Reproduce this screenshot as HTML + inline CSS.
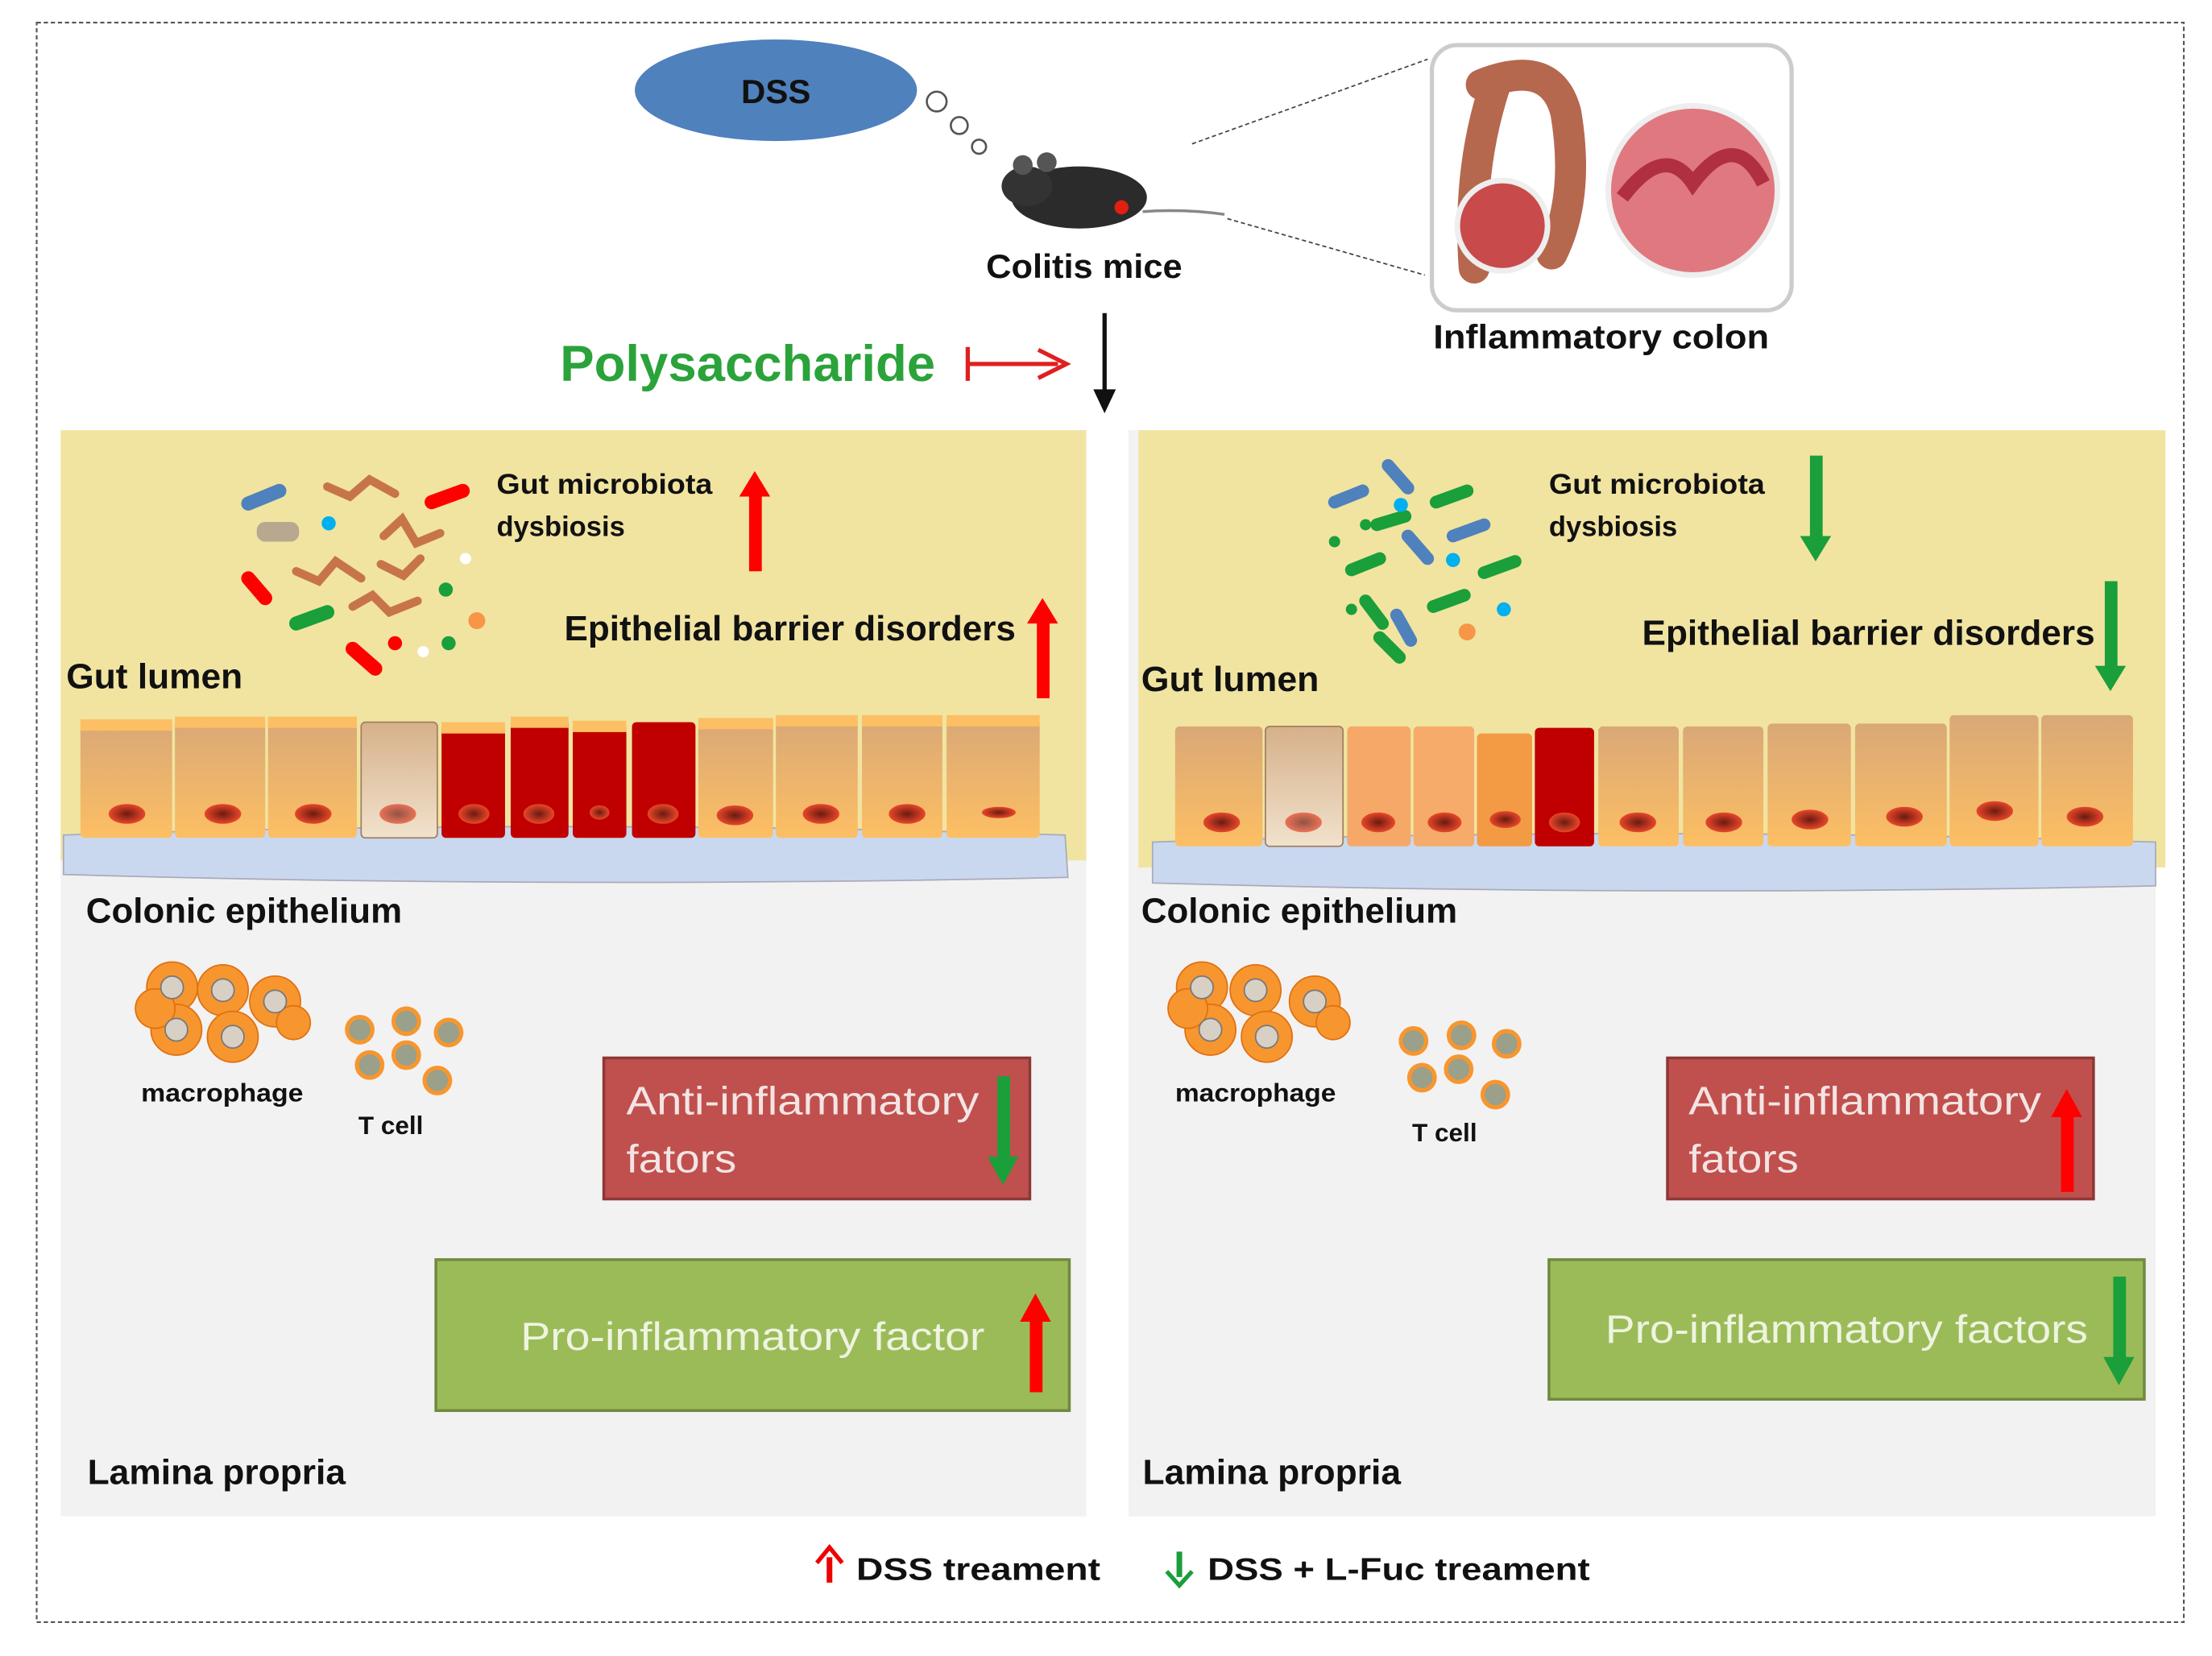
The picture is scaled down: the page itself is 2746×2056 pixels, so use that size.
<!DOCTYPE html>
<html><head><meta charset="utf-8"><style>
html,body{margin:0;padding:0;background:#fff}
svg{display:block}
text{font-family:"Liberation Sans",sans-serif}
</style></head><body>
<svg width="2746" height="2056" viewBox="0 0 1568 1174" xmlns="http://www.w3.org/2000/svg">
<defs>
<linearGradient id="cell" x1="0" y1="0" x2="0" y2="1"><stop offset="0" stop-color="#d9a877"/><stop offset="1" stop-color="#fdbf63"/></linearGradient>
<linearGradient id="beige" x1="0" y1="0" x2="0" y2="1"><stop offset="0" stop-color="#d6b08a"/><stop offset="1" stop-color="#f1e2cc"/></linearGradient>
<radialGradient id="nuc"><stop offset="0" stop-color="#6b1a10"/><stop offset="1" stop-color="#e8472a"/></radialGradient>
</defs>
<rect x="26" y="16" width="1522" height="1134" fill="none" stroke="#555" stroke-width="1.2" stroke-dasharray="3,2"/>

<ellipse cx="550" cy="64" rx="100" ry="36" fill="#4f81bd"/>
<text x="550" y="73" font-size="24" font-weight="bold" text-anchor="middle" fill="#111">DSS</text>
<circle cx="664" cy="72" r="7" fill="#fff" stroke="#555" stroke-width="1.5"/>
<circle cx="680" cy="89" r="6" fill="#fff" stroke="#555" stroke-width="1.5"/>
<circle cx="694" cy="104" r="5" fill="#fff" stroke="#555" stroke-width="1.5"/>
<ellipse cx="765" cy="140" rx="48" ry="22" fill="#2b2b2b"/>
<ellipse cx="728" cy="132" rx="18" ry="14" fill="#333"/>
<circle cx="725" cy="117" r="7" fill="#555"/>
<circle cx="742" cy="115" r="7" fill="#555"/>
<circle cx="795" cy="147" r="5" fill="#e02010"/>
<path d="M810 150 Q840 148 868 152" stroke="#888" stroke-width="2" fill="none"/>
<text x="699" y="197" font-size="24" font-weight="bold" textLength="139" lengthAdjust="spacingAndGlyphs" fill="#111">Colitis mice</text>
<line x1="845" y1="102" x2="1012" y2="42" stroke="#444" stroke-dasharray="3,2"/>
<line x1="870" y1="155" x2="1010" y2="195" stroke="#444" stroke-dasharray="3,2"/>
<rect x="1015" y="32" width="255" height="188" rx="18" fill="#fff" stroke="#ccc" stroke-width="3"/>
<path d="M1060 60 Q1040 120 1045 190 M1050 60 Q1100 40 1110 80 Q1120 140 1100 180" stroke="#b5684e" stroke-width="22" fill="none" stroke-linecap="round"/>
<circle cx="1065" cy="160" r="32" fill="#c94a4a" stroke="#eee" stroke-width="4"/>
<circle cx="1200" cy="135" r="60" fill="#e07880" stroke="#eee" stroke-width="4"/>
<path d="M1150 140 Q1180 100 1200 130 Q1230 90 1250 130" stroke="#b03040" stroke-width="10" fill="none"/>
<text x="1016" y="247" font-size="24" font-weight="bold" textLength="238" lengthAdjust="spacingAndGlyphs" fill="#111">Inflammatory colon</text>
<text x="397" y="270" font-size="36" font-weight="bold" textLength="266" lengthAdjust="spacingAndGlyphs" fill="#2aa33a">Polysaccharide</text>
<line x1="686" y1="246" x2="686" y2="270" stroke="#e02020" stroke-width="3"/>
<line x1="686" y1="258" x2="750" y2="258" stroke="#e02020" stroke-width="3"/>
<path d="M736 248 L756 258 L736 268" stroke="#e02020" stroke-width="3" fill="none"/>
<line x1="783" y1="222" x2="783" y2="285" stroke="#111" stroke-width="3"/>
<path d="M775 276 L783 293 L791 276" fill="#111"/>

<rect x="43" y="305" width="727" height="770" fill="#f2f2f2"/>
<rect x="43" y="305" width="727" height="305" fill="#f1e4a1"/>
<rect x="800" y="305" width="728" height="770" fill="#f2f2f2"/>
<rect x="807" y="305" width="728" height="310" fill="#f1e4a1"/>

<path d="M45 592 Q400 580 755 592 L757 622 Q400 630 45 620 Z" fill="#c9d8ee" stroke="#aab" stroke-width="1"/>
<path d="M817 597 Q1170 585 1528 597 L1528 628 Q1170 636 817 626 Z" fill="#c9d8ee" stroke="#aab" stroke-width="1"/>

<g>
<rect x="57" y="512" width="65" height="82" rx="3" fill="url(#cell)"/>
<rect x="124" y="510" width="64" height="84" rx="3" fill="url(#cell)"/>
<rect x="190" y="510" width="63" height="84" rx="3" fill="url(#cell)"/>
<rect x="256" y="512" width="54" height="82" rx="3" fill="url(#beige)" stroke="#a08060"/>
<rect x="313" y="514" width="45" height="80" rx="3" fill="#c00000"/>
<rect x="362" y="510" width="41" height="84" rx="3" fill="#c00000"/>
<rect x="406" y="513" width="38" height="81" rx="3" fill="#c00000"/>
<rect x="448" y="512" width="45" height="82" rx="3" fill="#c00000"/>
<rect x="495" y="511" width="53" height="83" rx="3" fill="url(#cell)"/>
<rect x="550" y="509" width="58" height="85" rx="3" fill="url(#cell)"/>
<rect x="611" y="509" width="57" height="85" rx="3" fill="url(#cell)"/>
<rect x="671" y="509" width="66" height="85" rx="3" fill="url(#cell)"/>
<g fill="#fdbf63"><rect x="57" y="510" width="65" height="8"/><rect x="124" y="508" width="64" height="8"/><rect x="190" y="508" width="63" height="8"/><rect x="313" y="512" width="45" height="8"/><rect x="362" y="508" width="41" height="8"/><rect x="406" y="511" width="38" height="8"/><rect x="495" y="509" width="53" height="8"/><rect x="550" y="507" width="58" height="8"/><rect x="611" y="507" width="57" height="8"/><rect x="671" y="507" width="66" height="8"/></g>
<g fill="url(#nuc)"><ellipse cx="90" cy="577" rx="13" ry="7"/><ellipse cx="158" cy="577" rx="13" ry="7"/><ellipse cx="222" cy="577" rx="13" ry="7"/><ellipse cx="282" cy="577" rx="13" ry="7" opacity=".7"/><ellipse cx="336" cy="577" rx="11" ry="7"/><ellipse cx="382" cy="577" rx="11" ry="7"/><ellipse cx="425" cy="576" rx="7" ry="5"/><ellipse cx="470" cy="577" rx="11" ry="7"/><ellipse cx="521" cy="578" rx="13" ry="7"/><ellipse cx="582" cy="577" rx="13" ry="7"/><ellipse cx="643" cy="577" rx="13" ry="7"/><ellipse cx="708" cy="576" rx="12" ry="4"/></g>
</g>
<g>
<rect x="833" y="515" width="62" height="85" rx="3" fill="url(#cell)"/>
<rect x="897" y="515" width="55" height="85" rx="3" fill="url(#beige)" stroke="#a08060"/>
<rect x="955" y="515" width="45" height="85" rx="3" fill="#f5a868"/>
<rect x="1002" y="515" width="43" height="85" rx="3" fill="#f6ab6a"/>
<rect x="1047" y="520" width="39" height="80" rx="3" fill="#f39a45"/>
<rect x="1088" y="516" width="42" height="84" rx="3" fill="#c00000"/>
<rect x="1133" y="515" width="57" height="85" rx="3" fill="url(#cell)"/>
<rect x="1193" y="515" width="57" height="85" rx="3" fill="url(#cell)"/>
<rect x="1253" y="513" width="59" height="87" rx="3" fill="url(#cell)"/>
<rect x="1315" y="513" width="65" height="87" rx="3" fill="url(#cell)"/>
<rect x="1382" y="507" width="63" height="93" rx="3" fill="url(#cell)"/>
<rect x="1447" y="507" width="65" height="93" rx="3" fill="url(#cell)"/>
<g fill="url(#nuc)"><ellipse cx="866" cy="583" rx="13" ry="7"/><ellipse cx="924" cy="583" rx="13" ry="7" opacity=".7"/><ellipse cx="977" cy="583" rx="12" ry="7"/><ellipse cx="1024" cy="583" rx="12" ry="7"/><ellipse cx="1067" cy="581" rx="11" ry="6"/><ellipse cx="1109" cy="583" rx="11" ry="7"/><ellipse cx="1161" cy="583" rx="13" ry="7"/><ellipse cx="1222" cy="583" rx="13" ry="7"/><ellipse cx="1283" cy="581" rx="13" ry="7"/><ellipse cx="1350" cy="579" rx="13" ry="7"/><ellipse cx="1414" cy="575" rx="13" ry="7"/><ellipse cx="1478" cy="579" rx="13" ry="7"/></g>
</g>

<g stroke-linecap="round" fill="none">
<line x1="176" y1="357" x2="198" y2="348" stroke="#4f81bd" stroke-width="10"/>
<line x1="306" y1="356" x2="328" y2="348" stroke="#f00" stroke-width="10"/>
<line x1="176" y1="410" x2="188" y2="424" stroke="#f00" stroke-width="10"/>
<line x1="210" y1="442" x2="232" y2="434" stroke="#1a9f3a" stroke-width="10"/>
<line x1="250" y1="460" x2="266" y2="474" stroke="#f00" stroke-width="10"/>
<path d="M232 345 L248 352 L262 340 L280 350" stroke="#c8744a" stroke-width="6"/>
<path d="M272 380 L285 368 L295 385 L312 378" stroke="#c8744a" stroke-width="6"/>
<path d="M210 405 L226 412 L238 398 L256 410" stroke="#c8744a" stroke-width="6"/>
<path d="M250 430 L264 422 L276 434 L296 426" stroke="#c8744a" stroke-width="6"/>
<path d="M270 400 L286 408 L298 396" stroke="#c8744a" stroke-width="6"/>
</g>
<g><rect x="182" y="370" width="30" height="14" rx="6" fill="#b8a890"/><circle cx="233" cy="371" r="5" fill="#00b0f0"/><circle cx="316" cy="418" r="5" fill="#1a9f3a"/><circle cx="318" cy="456" r="5" fill="#1a9f3a"/><circle cx="280" cy="456" r="5" fill="#f00"/><circle cx="338" cy="440" r="6" fill="#f79646"/><circle cx="330" cy="396" r="4" fill="#fff"/><circle cx="300" cy="462" r="4" fill="#fff"/></g>
<g stroke-linecap="round" stroke-width="9" fill="none">
<line x1="946" y1="356" x2="966" y2="348" stroke="#4f81bd"/>
<line x1="984" y1="330" x2="998" y2="346" stroke="#4f81bd"/>
<line x1="1018" y1="356" x2="1040" y2="348" stroke="#1a9f3a"/>
<line x1="998" y1="380" x2="1012" y2="396" stroke="#4f81bd"/>
<line x1="1030" y1="380" x2="1052" y2="372" stroke="#4f81bd"/>
<line x1="958" y1="404" x2="978" y2="396" stroke="#1a9f3a"/>
<line x1="976" y1="372" x2="996" y2="366" stroke="#1a9f3a"/>
<line x1="1052" y1="406" x2="1074" y2="398" stroke="#1a9f3a"/>
<line x1="1016" y1="430" x2="1038" y2="422" stroke="#1a9f3a"/>
<line x1="968" y1="426" x2="980" y2="442" stroke="#1a9f3a"/>
<line x1="990" y1="436" x2="1000" y2="454" stroke="#4f81bd"/>
<line x1="978" y1="452" x2="992" y2="466" stroke="#1a9f3a"/>
</g>
<g><circle cx="993" cy="358" r="5" fill="#00b0f0"/><circle cx="946" cy="384" r="4" fill="#1a9f3a"/><circle cx="968" cy="372" r="4" fill="#1a9f3a"/><circle cx="1030" cy="397" r="5" fill="#00b0f0"/><circle cx="958" cy="432" r="4" fill="#1a9f3a"/><circle cx="1066" cy="432" r="5" fill="#00b0f0"/><circle cx="1040" cy="448" r="6" fill="#f79646"/></g>

<g font-weight="bold" fill="#111" font-size="20" lengthAdjust="spacingAndGlyphs">
<text x="352" y="350" textLength="153" lengthAdjust="spacingAndGlyphs">Gut microbiota</text>
<text x="352" y="380" textLength="91" lengthAdjust="spacingAndGlyphs">dysbiosis</text>
<text x="1098" y="350" textLength="153" lengthAdjust="spacingAndGlyphs">Gut microbiota</text>
<text x="1098" y="380" textLength="91" lengthAdjust="spacingAndGlyphs">dysbiosis</text>
</g>
<g fill="#111" font-size="25" font-weight="bold">
<text x="400" y="454" textLength="320" lengthAdjust="spacingAndGlyphs">Epithelial barrier disorders</text>
<text x="1164" y="457" textLength="321" lengthAdjust="spacingAndGlyphs">Epithelial barrier disorders</text>
<text x="47" y="488" textLength="125" lengthAdjust="spacingAndGlyphs">Gut lumen</text>
<text x="809" y="490" textLength="126" lengthAdjust="spacingAndGlyphs">Gut lumen</text>
<text x="61" y="654" textLength="224" lengthAdjust="spacingAndGlyphs">Colonic epithelium</text>
<text x="809" y="654" textLength="224" lengthAdjust="spacingAndGlyphs">Colonic epithelium</text>
<text x="62" y="1052" textLength="183" lengthAdjust="spacingAndGlyphs">Lamina propria</text>
<text x="810" y="1052" textLength="183" lengthAdjust="spacingAndGlyphs">Lamina propria</text>
</g>

<g>
<rect x="531" y="350" width="9" height="55" fill="#f00"/><path d="M524 352 L535 334 L546 352 Z" fill="#f00"/>
<rect x="735" y="440" width="9" height="55" fill="#f00"/><path d="M728 442 L739 424 L750 442 Z" fill="#f00"/>
<rect x="1283" y="323" width="9" height="60" fill="#1a9f3a"/><path d="M1276 380 L1287 398 L1298 380 Z" fill="#1a9f3a"/>
<rect x="1492" y="412" width="9" height="62" fill="#1a9f3a"/><path d="M1485 472 L1496 490 L1507 472 Z" fill="#1a9f3a"/>
</g>

<g>
<g fill="#f7962f" stroke="#e07010">
<circle cx="122" cy="700" r="18"/><circle cx="158" cy="702" r="18"/><circle cx="195" cy="710" r="18"/><circle cx="125" cy="730" r="18"/><circle cx="165" cy="735" r="18"/><circle cx="110" cy="715" r="14"/><circle cx="208" cy="725" r="12"/>
<circle cx="852" cy="700" r="18"/><circle cx="890" cy="702" r="18"/><circle cx="932" cy="710" r="18"/><circle cx="858" cy="730" r="18"/><circle cx="898" cy="735" r="18"/><circle cx="842" cy="715" r="14"/><circle cx="945" cy="725" r="12"/>
</g>
<g fill="#d8d0c4" stroke="#777">
<circle cx="122" cy="700" r="8"/><circle cx="158" cy="702" r="8"/><circle cx="195" cy="710" r="8"/><circle cx="125" cy="730" r="8"/><circle cx="165" cy="735" r="8"/>
<circle cx="852" cy="700" r="8"/><circle cx="890" cy="702" r="8"/><circle cx="932" cy="710" r="8"/><circle cx="858" cy="730" r="8"/><circle cx="898" cy="735" r="8"/>
</g>
<g fill="#9aa08a" stroke="#f7962f" stroke-width="3">
<circle cx="255" cy="730" r="9"/><circle cx="288" cy="724" r="9"/><circle cx="318" cy="732" r="9"/><circle cx="262" cy="755" r="9"/><circle cx="288" cy="748" r="9"/><circle cx="310" cy="766" r="9"/>
<circle cx="1002" cy="738" r="9"/><circle cx="1036" cy="734" r="9"/><circle cx="1068" cy="740" r="9"/><circle cx="1008" cy="764" r="9"/><circle cx="1034" cy="758" r="9"/><circle cx="1060" cy="776" r="9"/>
</g>
<g font-weight="bold" font-size="18" fill="#111">
<text x="100" y="781" textLength="115" lengthAdjust="spacingAndGlyphs">macrophage</text><text x="254" y="804" textLength="46" lengthAdjust="spacingAndGlyphs">T cell</text>
<text x="833" y="781" textLength="114" lengthAdjust="spacingAndGlyphs">macrophage</text><text x="1001" y="809" textLength="46" lengthAdjust="spacingAndGlyphs">T cell</text>
</g>
</g>

<rect x="428" y="750" width="302" height="100" fill="#c0504d" stroke="#8c3836" stroke-width="2"/>
<text x="444" y="790" font-size="28" fill="#f3e4e4" textLength="250" lengthAdjust="spacingAndGlyphs">Anti-inflammatory</text>
<text x="444" y="831" font-size="28" fill="#f3e4e4" textLength="78" lengthAdjust="spacingAndGlyphs">fators</text>
<rect x="707" y="763" width="9" height="60" fill="#1a9f3a"/><path d="M700 820 L711 840 L722 820 Z" fill="#1a9f3a"/>
<rect x="309" y="893" width="449" height="107" fill="#9bbb59" stroke="#71893f" stroke-width="2"/>
<text x="369" y="957" font-size="28" fill="#eef4e0" textLength="329" lengthAdjust="spacingAndGlyphs">Pro-inflammatory factor</text>
<rect x="730" y="935" width="9" height="52" fill="#f00"/><path d="M723 937 L734 917 L745 937 Z" fill="#f00"/>

<rect x="1182" y="750" width="302" height="100" fill="#c0504d" stroke="#8c3836" stroke-width="2"/>
<text x="1197" y="790" font-size="28" fill="#f3e4e4" textLength="250" lengthAdjust="spacingAndGlyphs">Anti-inflammatory</text>
<text x="1197" y="831" font-size="28" fill="#f3e4e4" textLength="78" lengthAdjust="spacingAndGlyphs">fators</text>
<rect x="1461" y="790" width="9" height="55" fill="#f00"/><path d="M1454 792 L1465 772 L1476 792 Z" fill="#f00"/>
<rect x="1098" y="893" width="422" height="99" fill="#9bbb59" stroke="#71893f" stroke-width="2"/>
<text x="1138" y="952" font-size="28" fill="#eef4e0" textLength="342" lengthAdjust="spacingAndGlyphs">Pro-inflammatory factors</text>
<rect x="1498" y="905" width="9" height="60" fill="#1a9f3a"/><path d="M1491 962 L1502 982 L1513 962 Z" fill="#1a9f3a"/>

<rect x="586" y="1104" width="4" height="18" fill="#e00"/><path d="M579 1108 L588 1097 L597 1108" stroke="#e00" stroke-width="3" fill="none"/>
<text x="607" y="1120" font-size="22" font-weight="bold" fill="#111" textLength="173" lengthAdjust="spacingAndGlyphs">DSS treament</text>
<rect x="834" y="1100" width="4" height="18" fill="#1a9f3a"/><path d="M827 1114 L836 1124 L845 1114" stroke="#1a9f3a" stroke-width="3" fill="none"/>
<text x="856" y="1120" font-size="22" font-weight="bold" fill="#111" textLength="271" lengthAdjust="spacingAndGlyphs">DSS + L-Fuc  treament</text>
</svg>
</body></html>
